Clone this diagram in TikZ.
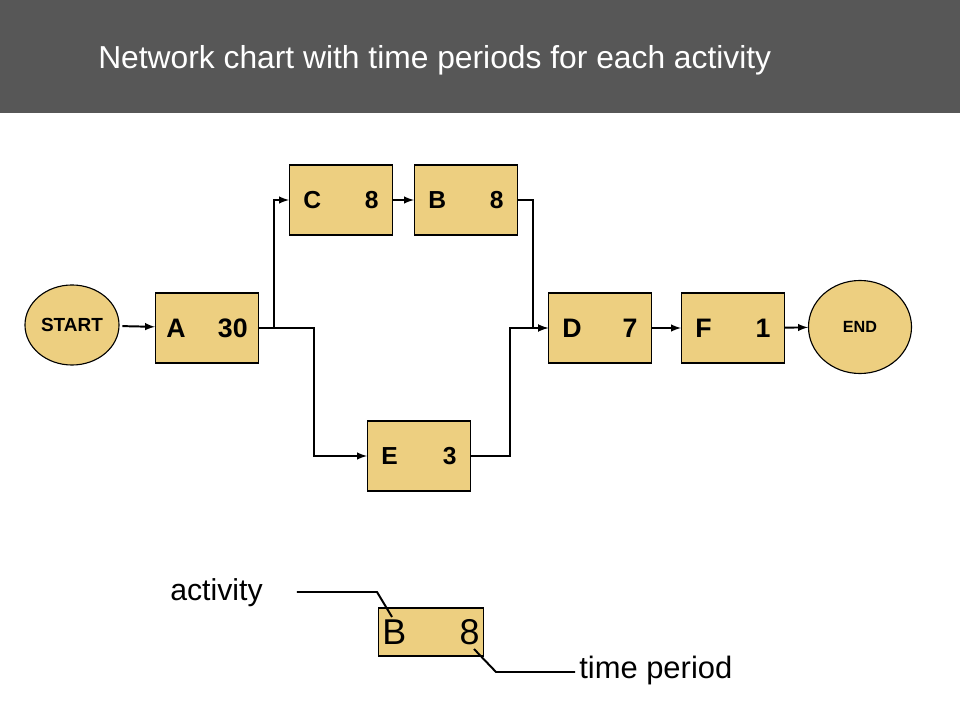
\documentclass[tikz,border=0pt]{standalone}
\usepackage{fontspec}
\setmainfont{Liberation Sans}
\usetikzlibrary{shapes.geometric}

\definecolor{boxfill}{HTML}{EDCF80}
\definecolor{headgray}{HTML}{575757}

\newcommand{\actpair}[2]{\noindent#1\hfill#2}

\begin{document}
\begin{tikzpicture}[x=0.025cm,y=-0.025cm,
    act/.style={draw=black, line width=0.8pt, fill=boxfill, minimum width=2.575cm,
        minimum height=1.75cm, inner xsep=0.35cm, text width=1.875cm,
        font=\bfseries\fontsize{19}{19}\selectfont},
    actsmall/.style={act, font=\bfseries\fontsize{17.5}{17.5}\selectfont},
    terminal/.style={ellipse, draw=black, line width=0.8pt, fill=boxfill, inner sep=0pt,
        font=\bfseries},
    link/.style={draw, line width=1.4pt, -latex},
    leader/.style={draw, line width=1.4pt}]

    \useasboundingbox (0,0) rectangle (960,720);
    \fill[headgray] (0,0) rectangle (960,113);
    \node[anchor=base west, inner sep=0pt, text=white, font=\fontsize{22.6}{22.6}\selectfont]
        (title) at (98,69) {Network chart with time periods for each activity};

    % nodes
    \node[terminal, minimum width=2.35cm, minimum height=2cm, font=\bfseries\fontsize{13.5}{13.5}\selectfont]
        (START) at (72,325) {START};
    \node[act, inner xsep=0.27cm, text width=2.035cm] (A) at (207,328) {\actpair{A}{30}};
    \node[actsmall] (C) at (341,200) {\actpair{C}{8}};
    \node[actsmall] (B) at (466,200) {\actpair{B}{8}};
    \node[actsmall] (E) at (419,456) {\actpair{E}{3}};
    \node[act] (D) at (600,328) {\actpair{D}{7}};
    \node[act] (F) at (733,328) {\actpair{F}{1}};
    \node[terminal, minimum width=2.575cm, minimum height=2.325cm, font=\bfseries\fontsize{11.5}{11.5}\selectfont]
        (END) at (860,327) {END};

    % connectors
    \draw[link, shorten <=2pt] (START) -- (A);
    \draw[link] (A.east) -- ++(15,0) |- (C);
    \draw[link] (A.east) -- ++(55,0) |- (E);
    \draw[link] (C) -- (B);
    \draw[link] (B.east) -- ++(15,0) |- (D);
    \draw[link] (E.east) -- ++(39,0) |- (D);
    \draw[link] (D) -- (F);
    \draw[link] (F) -- (END);

    % key
    \node[draw=black, line width=0.8pt, fill=boxfill, minimum width=2.625cm, minimum height=1.2cm,
        inner xsep=0.1cm, text width=2.425cm, font=\fontsize{25.5}{25.5}\selectfont]
        (key) at (431,632) {\actpair{B}{8}};
    \node[anchor=base west, inner sep=0pt, font=\fontsize{21.5}{21.5}\selectfont]
        (activity) at (170,600) {activity};
    \node[anchor=base west, inner sep=0pt, font=\fontsize{22}{22}\selectfont]
        (period) at (579,678) {time period};
    \coordinate (actend) at (392,617);
    \coordinate (perend) at (474,649);
    \draw[leader] ([xshift=34*0.025cm]activity.east |- 0,592) -- (377,592) -- (actend);
    \draw[leader] (perend) -- (496,672) -- ([xshift=-0.1cm]period.west |- 0,672);

\end{tikzpicture}
\end{document}
